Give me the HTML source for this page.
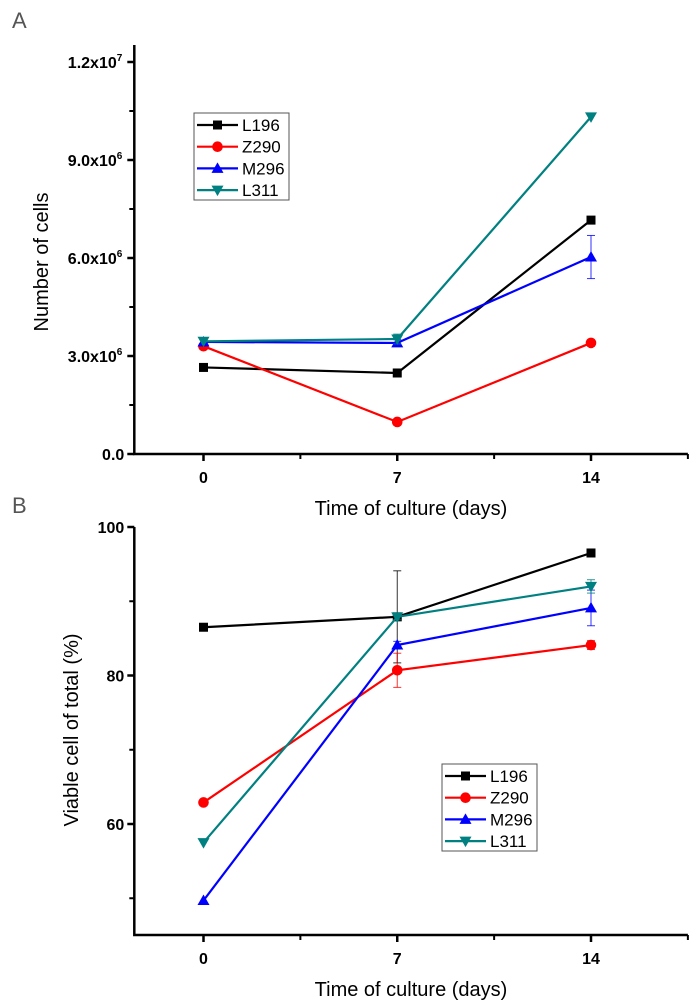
<!DOCTYPE html>
<html><head><meta charset="utf-8"><style>
html,body{margin:0;padding:0;background:#fff;}
svg{display:block;font-family:"Liberation Sans",Arial,sans-serif;}
</style></head><body>
<svg id="fig" width="700" height="1007" viewBox="0 0 700 1007" xmlns="http://www.w3.org/2000/svg">
<text x="12" y="28" font-size="22" fill="#555">A</text>
<text x="12" y="513" font-size="22" fill="#555">B</text>
</svg>
<script>
const days = [0, 7, 14];
const seriesNames = ["L196", "Z290", "M296", "L311"];
const seriesColors = ["#000000", "#ff0000", "#0000ff", "#008080"];
const markers = ["square", "circle", "triangle", "tri-down"];
// Panel A (number of cells)
const cellsL196 = [2.65e6, 2.48e6, 7.16e6];
const cellsZ290 = [3.30e6, 0.98e6, 3.40e6];
const cellsM296 = [3.43e6, 3.40e6, 6.03e6];
const cellsL311 = [3.45e6, 3.52e6, 10.32e6];
const errA_L196 = [0, 0.12e6, 0];
const errA_Z290 = [0, 0, 0];
const errA_M296 = [0, 0.1e6, 0.66e6];
const errA_L311 = [0, 0.15e6, 0];
const yTicksA = [0, 3e6, 6e6, 9e6, 1.2e7];
const yTickLabelsA = ["0.0", "3.0x10|6", "6.0x10|6", "9.0x10|6", "1.2x10|7"];
// Panel B (viability %)
const viaL196 = [86.5, 87.9, 96.5];
const viaZ290 = [62.9, 80.7, 84.1];
const viaM296 = [49.7, 84.1, 89.1];
const viaL311 = [57.5, 87.9, 92.0];
const errB_L196 = [0, 6.2, 0];
const errB_Z290 = [0, 2.3, 0.6];
const errB_M296 = [0, 0.5, 2.4];
const errB_L311 = [0, 0.4, 0.9];
const yTicksB = [60, 80, 100];
const yTickLabelsB = ["60", "80", "100"];
const xTicks = [0, 7, 14];

const NS = "http://www.w3.org/2000/svg";
const svg = document.getElementById("fig");
function mk(tag, attrs, parent) {
  const e = document.createElementNS(NS, tag);
  for (const k in attrs) e.setAttribute(k, attrs[k]);
  (parent || svg).appendChild(e);
  return e;
}
function xScale(d) { return 203.5 + (d) * (591 - 203.5) / 14; }
const xLeft = xScale(-2.5), xRight = xScale(17.5);

function marker(g, type, x, y, color, s) {
  let m;
  if (type === "square") m = mk("rect", {x: x - s, y: y - s, width: 2 * s, height: 2 * s, fill: color}, g);
  else if (type === "circle") m = mk("circle", {cx: x, cy: y, r: s + 0.8, fill: color}, g);
  else if (type === "triangle") m = mk("polygon", {points: `${x},${y - s - 1.5} ${x - s - 1.5},${y + s} ${x + s + 1.5},${y + s}`, fill: color}, g);
  else m = mk("polygon", {points: `${x},${y + s + 1.5} ${x - s - 1.5},${y - s} ${x + s + 1.5},${y - s}`, fill: color}, g);
  return m;
}

function drawPanel(p) {
  const g = mk("g", {});
  
  
  const ax = mk("path", {d: `M${xLeft},${p.yTop} L${xLeft},${p.yBot} L${xRight},${p.yBot}`, fill: "none", stroke: "#000", "stroke-width": 2.5}, g);
  
  
  p.yTicks.forEach((v, i) => {
    const y = p.y(v);
    mk("line", {x1: xLeft - 7, x2: xLeft, y1: y, y2: y, stroke: "#000", "stroke-width": 2.5}, g);
    const parts = p.yLabels[i].split("|");
    const t = mk("text", {x: xLeft - 10, y: y + 6, "text-anchor": "end", "font-size": 16, "font-weight": "bold"}, g);
    
    
    t.textContent = parts[0];
    if (parts[1]) {
      const ts = mk("tspan", {dy: -7, "font-size": 10}, t);
      ts.textContent = parts[1];
      t.setAttribute("x", xLeft - 12);
    }
  });
  p.minor.forEach(v => {
    const y = p.y(v);
    mk("line", {x1: xLeft - 5, x2: xLeft, y1: y, y2: y, stroke: "#000", "stroke-width": 2}, g);
  });
  xTicks.forEach(d => {
    const x = xScale(d);
    mk("line", {x1: x, x2: x, y1: p.yBot, y2: p.yBot + 7, stroke: "#000", "stroke-width": 2.5}, g);
    const t = mk("text", {x: x, y: p.yBot + 29, "text-anchor": "middle", "font-size": 16, "font-weight": "bold"}, g);
    
    
    t.textContent = d;
  });
  [3.5, 10.5, 17.5].forEach(d => {
    const x = xScale(d);
    mk("line", {x1: x, x2: x, y1: p.yBot, y2: p.yBot + 5, stroke: "#000", "stroke-width": 2}, g);
  });
  const xt = mk("text", {x: 411, y: p.yBot + 61, "text-anchor": "middle", "font-size": 20}, g);
  
  
  xt.textContent = "Time of culture (days)";
  const yt = mk("text", {x: 0, y: 0, "text-anchor": "middle", "font-size": 20, transform: `translate(${p.yTitleX},${p.yTitleY}) rotate(-90)`}, g);
  
  
  yt.textContent = p.yTitle;
  p.series.forEach((vals, si) => {
    const sg = mk("g", {}, g);
    
    
    const col = seriesColors[si];
    const pts = vals.map((v, i) => `${xScale(days[i])},${p.y(v)}`).join(" ");
    const ln = mk("polyline", {points: pts, fill: "none", stroke: col, "stroke-width": 2.2}, sg);
    
    
    vals.forEach((v, i) => {
      const e = p.errs[si][i];
      if (e > 0) {
        const x = xScale(days[i]);
        const y1 = p.y(v + e), y2 = p.y(v - e);
        mk("line", {x1: x, x2: x, y1: y1, y2: y2, stroke: col, "stroke-width": 1, opacity: 0.8}, sg);
        mk("line", {x1: x - 4, x2: x + 4, y1: y1, y2: y1, stroke: col, "stroke-width": 1, opacity: 0.8}, sg);
        mk("line", {x1: x - 4, x2: x + 4, y1: y2, y2: y2, stroke: col, "stroke-width": 1, opacity: 0.8}, sg);
      }
    });
    vals.forEach((v, i) => {
      const m = marker(sg, markers[si], xScale(days[i]), p.y(v), col, 4.5);
      
      
    });
  });
  const lg = mk("g", {}, g);
  
  
  mk("rect", {x: p.lx, y: p.ly, width: 95, height: 87, fill: "#fff", stroke: "#555", "stroke-width": 1}, lg);
  seriesNames.forEach((n, i) => {
    const e = mk("g", {}, lg);
    
    
    const y = p.ly + 12 + i * 21.7;
    mk("line", {x1: p.lx + 3, x2: p.lx + 44, y1: y, y2: y, stroke: seriesColors[i], "stroke-width": 2.2}, e);
    marker(e, markers[i], p.lx + 23.5, y, seriesColors[i], 4.5);
    const t = mk("text", {x: p.lx + 48, y: y + 6, "font-size": 17}, e);
    t.textContent = n;
  });
}

drawPanel({
  name: "panel-a-chart", yTop: 45, yBot: 454,
  y: v => 454 - v * (454 - 62) / 1.2e7,
  yTicks: yTicksA, yLabels: yTickLabelsA, minor: [1.5e6, 4.5e6, 7.5e6, 1.05e7],
  yTitle: "Number of cells", yTitleX: 48, yTitleY: 262,
  series: [cellsL196, cellsZ290, cellsM296, cellsL311],
  errs: [errA_L196, errA_Z290, errA_M296, errA_L311],
  lx: 194, ly: 113
});
drawPanel({
  name: "panel-b-chart", yTop: 527, yBot: 935,
  y: v => 527 + (100 - v) * (824 - 527) / 40,
  yTicks: yTicksB, yLabels: yTickLabelsB, minor: [50, 70, 90],
  yTitle: "Viable cell of total (%)", yTitleX: 78, yTitleY: 730,
  series: [viaL196, viaZ290, viaM296, viaL311],
  errs: [errB_L196, errB_Z290, errB_M296, errB_L311],
  lx: 442, ly: 764
});
</script>
</body></html>
